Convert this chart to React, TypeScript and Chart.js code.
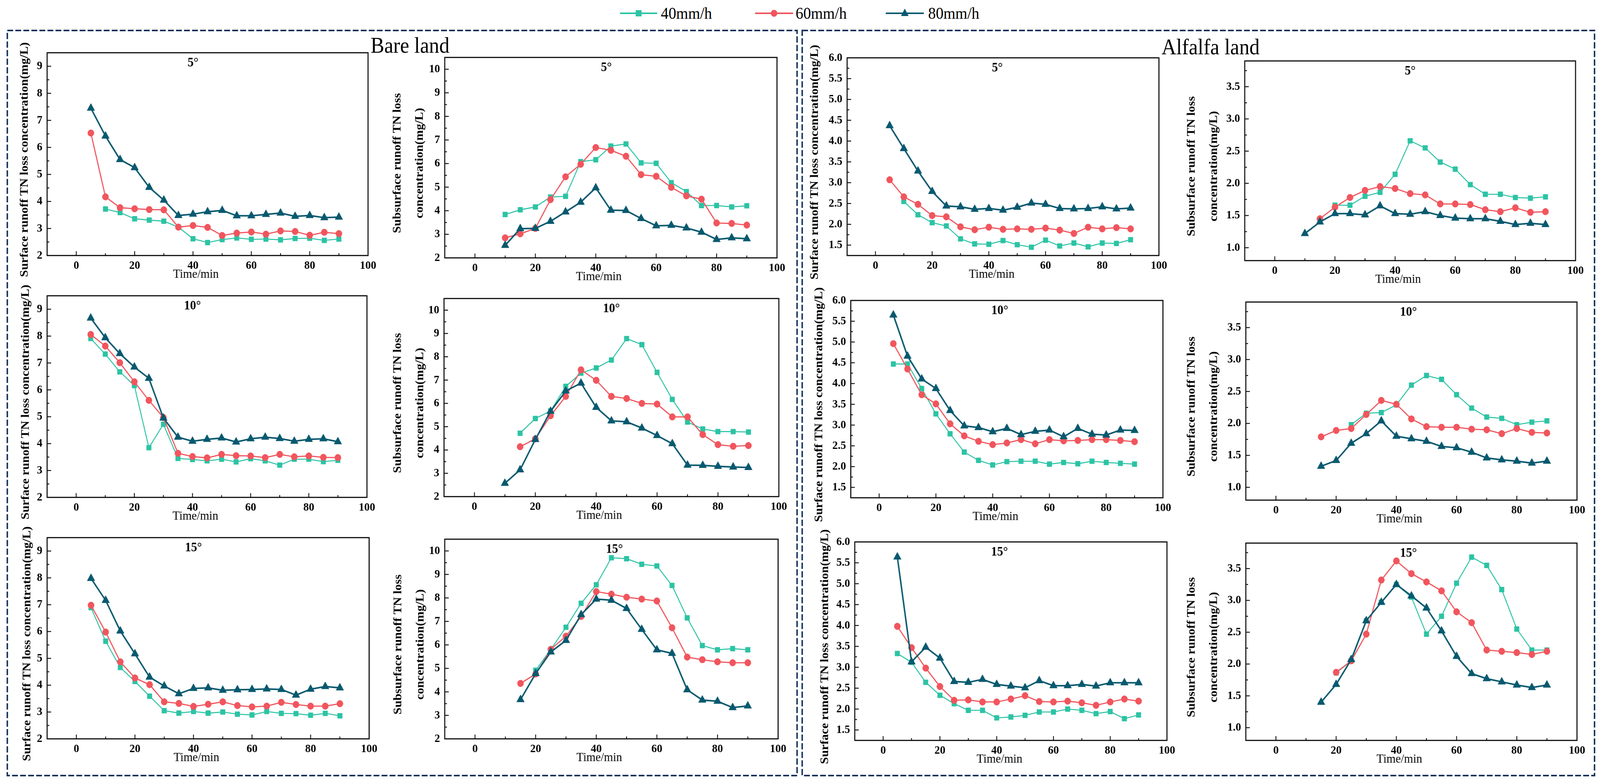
import React, { useEffect, useRef, useState } from 'react';
import { Chart, registerables } from 'chart.js';

Chart.register(...registerables);

const SERIF = '"Liberation Serif", "Times New Roman", Times, serif';
const COLOR_40 = '#2CC3A4';
const COLOR_60 = '#F1555D';
const COLOR_80 = '#08596F';
const NAVY = '#13305A';

const PAGE_W = 4382;
const PAGE_H = 2004;

const SERIES_LABELS = ['40mm/h', '60mm/h', '80mm/h'];
const TIME = [5, 10, 15, 20, 25, 30, 35, 40, 45, 50, 55, 60, 65, 70, 75, 80, 85, 90];
const X_LABEL_VALUES = [0, 20, 40, 60, 80, 100];
const ANGLES = ['5°', '10°', '15°'];
const SURF_TITLE = ['Surface runoff TN loss concentration(mg/L)'];
const SUB_TITLE = ['Subsurface runoff TN loss', 'concentration(mg/L)'];
const X_TITLE = 'Time/min';

// Bare land, surface runoff
const B_S5_40 = [null, 3.72, 3.59, 3.36, 3.31, 3.27, 3.05, 2.62, 2.48, 2.59, 2.65, 2.60, 2.61, 2.58, 2.63, 2.64, 2.56, 2.61];
const B_S5_60 = [6.53, 4.17, 3.77, 3.73, 3.70, 3.69, 3.05, 3.11, 3.04, 2.74, 2.83, 2.87, 2.79, 2.91, 2.89, 2.75, 2.86, 2.81];
const B_S5_80 = [7.45, 6.42, 5.55, 5.25, 4.52, 4.05, 3.48, 3.53, 3.62, 3.67, 3.47, 3.47, 3.52, 3.57, 3.45, 3.48, 3.40, 3.42];
const B_S10_40 = [7.91, 7.33, 6.67, 6.16, 3.85, 4.72, 3.45, 3.41, 3.36, 3.42, 3.32, 3.44, 3.36, 3.20, 3.42, 3.42, 3.33, 3.38];
const B_S10_60 = [8.06, 7.63, 7.01, 6.30, 5.61, 4.97, 3.64, 3.52, 3.47, 3.60, 3.55, 3.54, 3.48, 3.60, 3.51, 3.54, 3.49, 3.48];
const B_S10_80 = [8.67, 7.94, 7.35, 6.85, 6.43, 4.95, 4.24, 4.09, 4.16, 4.21, 4.06, 4.18, 4.24, 4.19, 4.09, 4.16, 4.18, 4.07];
const B_S15_40 = [6.89, 5.64, 4.66, 4.14, 3.59, 3.05, 2.96, 3.02, 2.96, 3.00, 2.92, 2.89, 3.02, 2.95, 2.94, 2.88, 2.95, 2.86];
const B_S15_60 = [6.98, 5.98, 4.87, 4.27, 4.02, 3.38, 3.32, 3.21, 3.29, 3.38, 3.24, 3.19, 3.22, 3.36, 3.28, 3.22, 3.22, 3.31];
const B_S15_80 = [7.98, 7.16, 6.02, 5.17, 4.30, 3.97, 3.68, 3.88, 3.90, 3.81, 3.83, 3.84, 3.86, 3.84, 3.63, 3.85, 3.95, 3.90];

// Bare land, subsurface runoff
const B_U5_40 = [null, 3.84, 4.04, 4.16, 4.58, 4.61, 6.08, 6.16, 6.74, 6.83, 6.03, 6.01, 5.19, 4.81, 4.22, 4.22, 4.16, 4.21];
const B_U5_60 = [null, 2.85, 3.02, 3.25, 4.47, 5.44, 5.97, 6.68, 6.56, 6.31, 5.53, 5.46, 4.99, 4.63, 4.49, 3.48, 3.46, 3.39];
const B_U5_80 = [null, 2.53, 3.24, 3.25, 3.55, 3.95, 4.36, 4.97, 4.02, 4.01, 3.67, 3.36, 3.38, 3.27, 3.09, 2.78, 2.85, 2.81];
const B_U10_40 = [null, null, 4.72, 5.35, 5.67, 6.73, 7.30, 7.52, 7.86, 8.78, 8.52, 7.33, 6.17, 5.20, 4.90, 4.79, 4.79, 4.77];
const B_U10_60 = [null, null, 4.14, 4.48, 5.47, 6.30, 7.44, 6.99, 6.30, 6.21, 6.00, 5.97, 5.42, 5.42, 4.66, 4.23, 4.16, 4.19];
const B_U10_80 = [null, 2.57, 3.15, 4.45, 5.66, 6.53, 6.87, 5.83, 5.25, 5.21, 4.94, 4.62, 4.27, 3.35, 3.34, 3.30, 3.27, 3.25];
const B_U15_40 = [null, null, null, 4.92, 5.81, 6.75, 7.77, 8.56, 9.71, 9.67, 9.43, 9.36, 8.53, 7.15, 5.97, 5.79, 5.84, 5.79];
const B_U15_60 = [null, null, 4.36, 4.76, 5.81, 6.37, 7.21, 8.27, 8.16, 8.03, 7.95, 7.87, 6.73, 5.48, 5.37, 5.28, 5.24, 5.24];
const B_U15_80 = [null, null, 3.67, 4.78, 5.70, 6.19, 7.29, 7.95, 7.90, 7.55, 6.66, 5.79, 5.64, 4.09, 3.65, 3.60, 3.33, 3.40];

// Alfalfa land, surface runoff
const A_S5_40 = [null, 2.55, 2.23, 2.04, 1.96, 1.65, 1.53, 1.52, 1.61, 1.51, 1.45, 1.62, 1.48, 1.55, 1.46, 1.55, 1.54, 1.63];
const A_S5_60 = [3.07, 2.66, 2.48, 2.21, 2.18, 1.94, 1.87, 1.93, 1.88, 1.89, 1.88, 1.91, 1.86, 1.78, 1.93, 1.89, 1.92, 1.89];
const A_S5_80 = [4.37, 3.82, 3.28, 2.79, 2.44, 2.42, 2.36, 2.38, 2.34, 2.41, 2.51, 2.48, 2.38, 2.37, 2.38, 2.42, 2.37, 2.39];
const A_S10_40 = [4.47, 4.47, 3.88, 3.27, 2.79, 2.35, 2.15, 2.04, 2.12, 2.13, 2.13, 2.06, 2.10, 2.07, 2.13, 2.10, 2.08, 2.06];
const A_S10_60 = [4.96, 4.35, 3.73, 3.51, 3.03, 2.74, 2.61, 2.53, 2.57, 2.65, 2.55, 2.65, 2.62, 2.63, 2.65, 2.65, 2.63, 2.60];
const A_S10_80 = [5.65, 4.66, 4.11, 3.88, 3.35, 2.98, 2.94, 2.84, 2.92, 2.77, 2.85, 2.88, 2.72, 2.92, 2.78, 2.76, 2.88, 2.87];
const A_S15_40 = [3.33, 3.12, 2.64, 2.33, 2.13, 1.97, 1.97, 1.79, 1.81, 1.85, 1.93, 1.93, 2.00, 1.97, 1.89, 1.94, 1.77, 1.86];
const A_S15_60 = [3.98, 3.47, 2.98, 2.54, 2.21, 2.22, 2.17, 2.17, 2.24, 2.32, 2.18, 2.17, 2.19, 2.15, 2.09, 2.17, 2.24, 2.19];
const A_S15_80 = [5.64, 3.13, 3.48, 3.22, 2.66, 2.64, 2.71, 2.59, 2.55, 2.51, 2.68, 2.56, 2.56, 2.59, 2.55, 2.63, 2.63, 2.63];

// Alfalfa land, subsurface runoff
const A_U5_40 = [null, null, null, 1.66, 1.66, 1.80, 1.86, 2.14, 2.66, 2.55, 2.33, 2.22, 1.98, 1.83, 1.83, 1.78, 1.77, 1.79];
const A_U5_60 = [null, null, 1.45, 1.63, 1.78, 1.89, 1.95, 1.92, 1.84, 1.82, 1.68, 1.68, 1.67, 1.59, 1.56, 1.62, 1.55, 1.56];
const A_U5_80 = [null, 1.22, 1.40, 1.53, 1.53, 1.51, 1.65, 1.53, 1.52, 1.56, 1.50, 1.46, 1.45, 1.45, 1.41, 1.36, 1.38, 1.36];
const A_U10_40 = [null, null, null, null, 1.98, 2.16, 2.17, 2.29, 2.60, 2.75, 2.69, 2.45, 2.24, 2.10, 2.08, 1.98, 2.02, 2.04];
const A_U10_60 = [null, null, 1.79, 1.89, 1.92, 2.14, 2.36, 2.30, 2.07, 1.95, 1.94, 1.94, 1.91, 1.90, 1.84, 1.92, 1.86, 1.85];
const A_U10_80 = [null, null, 1.33, 1.42, 1.69, 1.84, 2.04, 1.80, 1.76, 1.72, 1.64, 1.62, 1.55, 1.46, 1.43, 1.41, 1.38, 1.41];
const A_U15_40 = [null, null, null, 1.86, 2.05, 2.68, 2.97, 3.25, 3.05, 2.47, 2.75, 3.27, 3.68, 3.55, 3.17, 2.55, 2.22, 2.22];
const A_U15_60 = [null, null, null, 1.87, 2.05, 2.47, 3.32, 3.62, 3.42, 3.29, 3.15, 2.82, 2.65, 2.22, 2.20, 2.18, 2.15, 2.20];
const A_U15_80 = [null, null, 1.40, 1.68, 2.07, 2.68, 2.97, 3.25, 3.07, 2.88, 2.52, 2.12, 1.85, 1.77, 1.72, 1.67, 1.63, 1.67];

type Vals = (number | null)[];
interface PanelDef {
  box: number[];
  titleX: number;
  title: string[];
  yMin: number; yMax: number; yStep: number; yMajor: number; dec: number;
  angle: string; angleX: number;
  s40: Vals; s60: Vals; s80: Vals;
}

const BARE_SURF = { title: SURF_TITLE, yMin: 2, yMax: 9.5, yStep: 0.5, yMajor: 1, dec: 0 };
const BARE_SUB = { title: SUB_TITLE, yMin: 2, yMax: 10.5, yStep: 0.5, yMajor: 1, dec: 0 };
const ALF_SURF = { title: SURF_TITLE, yMin: 1.25, yMax: 6.0, yStep: 0.25, yMajor: 0.5, dec: 1 };
const ALF_SUB = { title: SUB_TITLE, yMin: 0.8, yMax: 3.9, yStep: 0.25, yMajor: 0.5, dec: 1 };

const PANELS: PanelDef[] = [
  { ...BARE_SURF, box: [129, 135, 1008, 654], titleX: 68, angle: ANGLES[0], angleX: 40, s40: B_S5_40, s60: B_S5_60, s80: B_S5_80 },
  { ...BARE_SUB, box: [1218, 147, 2128, 660], titleX: 1089, angle: ANGLES[0], angleX: 43.5, s40: B_U5_40, s60: B_U5_60, s80: B_U5_80 },
  { ...ALF_SURF, box: [2320, 148, 3174, 654], titleX: 2232, angle: ANGLES[0], angleX: 43, s40: A_S5_40, s60: A_S5_60, s80: A_S5_80 },
  { ...ALF_SUB, box: [3409, 156, 4315, 667], titleX: 3264, angle: ANGLES[0], angleX: 45, s40: A_U5_40, s60: A_U5_60, s80: A_U5_80 },
  { ...BARE_SURF, box: [129, 757, 1005, 1273], titleX: 71, angle: ANGLES[1], angleX: 40, s40: B_S10_40, s60: B_S10_60, s80: B_S10_80 },
  { ...BARE_SUB, box: [1216, 764, 2133, 1271], titleX: 1090, angle: ANGLES[1], angleX: 45, s40: B_U10_40, s60: B_U10_60, s80: B_U10_80 },
  { ...ALF_SURF, box: [2330, 769, 3185, 1274], titleX: 2244, angle: ANGLES[1], angleX: 42.5, s40: A_S10_40, s60: A_S10_60, s80: A_S10_80 },
  { ...ALF_SUB, box: [3412, 773, 4319, 1280], titleX: 3264, angle: ANGLES[1], angleX: 44, s40: A_U10_40, s60: A_U10_60, s80: A_U10_80 },
  { ...BARE_SURF, box: [129, 1376, 1011, 1891], titleX: 75, angle: ANGLES[2], angleX: 40, s40: B_S15_40, s60: B_S15_60, s80: B_S15_80 },
  { ...BARE_SUB, box: [1218, 1380, 2131, 1891], titleX: 1091, angle: ANGLES[2], angleX: 46, s40: B_U15_40, s60: B_U15_60, s80: B_U15_80 },
  { ...ALF_SURF, box: [2341, 1387, 3196, 1895], titleX: 2260, angle: ANGLES[2], angleX: 41, s40: A_S15_40, s60: A_S15_60, s80: A_S15_80 },
  { ...ALF_SUB, box: [3412, 1390, 4319, 1895], titleX: 3264, angle: ANGLES[2], angleX: 44, s40: A_U15_40, s60: A_U15_60, s80: A_U15_80 },
];

const PAD_TOP = 34;
const PAD_RIGHT = 34;
const X_AXIS_H = 82;
const TITLE_LEFT_GAP = 32;

const isMult = (v: number, m: number) => Math.abs(v / m - Math.round(v / m)) < 1e-6;

const decoPlugin = {
  id: 'deco',
  afterDraw(chart: any, _args: any, o: any) {
    const { ctx, chartArea: a, scales } = chart;
    const xs = scales.x;
    const ys = scales.y;
    ctx.save();
    ctx.strokeStyle = '#000';
    ctx.lineWidth = 2.2;
    xs.ticks.forEach((t: any) => {
      const p = xs.getPixelForValue(t.value);
      if (p <= a.left + 2 || p >= a.right - 2) return;
      const len = isMult(t.value, 20) ? 11 : 6;
      ctx.beginPath();
      ctx.moveTo(p, a.bottom);
      ctx.lineTo(p, a.bottom - len);
      ctx.stroke();
    });
    ys.ticks.forEach((t: any) => {
      const p = ys.getPixelForValue(t.value);
      if (p >= a.bottom - 2 || p <= a.top + 2) return;
      const len = isMult(t.value, o.yMajor) ? 11 : 6;
      ctx.beginPath();
      ctx.moveTo(a.left, p);
      ctx.lineTo(a.left + len, p);
      ctx.stroke();
    });
    ctx.lineWidth = 2.8;
    ctx.strokeRect(a.left, a.top, a.right - a.left, a.bottom - a.top);

    ctx.fillStyle = '#000';
    ctx.textAlign = 'center';
    ctx.textBaseline = 'middle';
    ctx.font = `bold 33px ${SERIF}`;
    ctx.fillText(o.angle, xs.getPixelForValue(o.angleX), a.top + 26);

    ctx.font = `32px ${SERIF}`;
    ctx.fillText(X_TITLE, xs.getPixelForValue(41), a.bottom + 49);

    ctx.font = `bold 32px ${SERIF}`;
    const cy = (a.top + a.bottom) / 2 + 14;
    o.title.forEach((line: string, i: number) => {
      ctx.save();
      ctx.translate(TITLE_LEFT_GAP + i * 61, cy);
      ctx.rotate(-Math.PI / 2);
      ctx.fillText(line, 0, 0);
      ctx.restore();
    });
    ctx.restore();
  },
};

function makeDataset(label: string, vals: Vals, color: string, style: string, radius: number, width: number, order: number) {
  return {
    label,
    data: TIME.map((t, i) => ({ x: t, y: vals[i] })).filter((p) => p.y !== null),
    borderColor: color,
    backgroundColor: color,
    pointBackgroundColor: color,
    pointBorderColor: color,
    pointStyle: style,
    pointRadius: radius,
    pointBorderWidth: 1,
    borderWidth: width,
    tension: 0,
    fill: false,
    order,
  };
}

function PanelChart({ p }: { p: PanelDef }) {
  const ref = useRef<HTMLCanvasElement>(null);
  const [l, t, r, b] = p.box;
  const canvasLeft = p.titleX - TITLE_LEFT_GAP;
  const canvasTop = t - PAD_TOP;
  const W = r - canvasLeft + PAD_RIGHT;
  const H = b - canvasTop + X_AXIS_H;
  const yW = l - canvasLeft;

  useEffect(() => {
    if (!ref.current) return;
    const tickFont = { family: SERIF, size: 30, weight: 'bold' as const };
    const chart = new Chart(ref.current, {
      type: 'line',
      data: {
        datasets: [
          makeDataset(SERIES_LABELS[0], p.s40, COLOR_40, 'rect', 9, 2.6, 2),
          makeDataset(SERIES_LABELS[1], p.s60, COLOR_60, 'circle', 8.5, 3, 1),
          makeDataset(SERIES_LABELS[2], p.s80, COLOR_80, 'triangle', 12, 4, 0),
        ] as any,
      },
      options: {
        responsive: false,
        animation: false,
        devicePixelRatio: 1,
        events: [],
        layout: { padding: { top: PAD_TOP, right: PAD_RIGHT, left: 0, bottom: 0 } },
        plugins: {
          legend: { display: false },
          tooltip: { enabled: false },
          deco: { angle: p.angle, angleX: p.angleX, title: p.title, yMajor: p.yMajor },
        } as any,
        scales: {
          x: {
            type: 'linear',
            min: -10,
            max: 100,
            afterFit: (s: any) => { s.height = X_AXIS_H; s.paddingLeft = 0; s.paddingRight = 0; },
            grid: { display: false, drawTicks: false },
            border: { display: false },
            ticks: {
              stepSize: 10,
              autoSkip: false,
              maxRotation: 0,
              includeBounds: false,
              padding: 8,
              font: tickFont,
              color: '#000',
              callback: (v: any) => (X_LABEL_VALUES.includes(Number(v)) ? String(v) : ''),
            },
          },
          y: {
            type: 'linear',
            min: p.yMin,
            max: p.yMax,
            afterFit: (s: any) => { s.width = yW; s.paddingTop = 0; s.paddingBottom = 0; },
            grid: { display: false, drawTicks: false },
            border: { display: false },
            ticks: {
              stepSize: p.yStep,
              autoSkip: false,
              includeBounds: false,
              padding: 13,
              font: tickFont,
              color: '#000',
              callback: (v: any) => (isMult(Number(v), p.yMajor) ? Number(v).toFixed(p.dec) : ''),
            },
          },
        } as any,
      },
      plugins: [decoPlugin as any],
    });
    return () => chart.destroy();
  }, []);

  return (
    <canvas
      ref={ref}
      width={W}
      height={H}
      style={{ position: 'absolute', left: canvasLeft, top: canvasTop, width: W, height: H }}
    />
  );
}

const LEGEND_ITEMS = [
  { label: SERIES_LABELS[0], color: COLOR_40, shape: 'rect', x1: 1698, x2: 1800, tx: 1810 },
  { label: SERIES_LABELS[1], color: COLOR_60, shape: 'circle', x1: 2068, x2: 2172, tx: 2179 },
  { label: SERIES_LABELS[2], color: COLOR_80, shape: 'triangle', x1: 2426, x2: 2530, tx: 2542 },
];

function Marker({ shape, cx, cy, color }: { shape: string; cx: number; cy: number; color: string }) {
  if (shape === 'rect') return <rect x={cx - 8} y={cy - 8} width={16} height={16} fill={color} />;
  if (shape === 'circle') return <circle cx={cx} cy={cy} r={9} fill={color} />;
  return <polygon points={`${cx},${cy - 12} ${cx + 10.5},${cy + 7} ${cx - 10.5},${cy + 7}`} fill={color} />;
}

function viewportScale() {
  if (typeof window === 'undefined') return { sx: 1, sy: 1 };
  const sx = window.innerWidth / PAGE_W;
  const sy = window.innerHeight / PAGE_H;
  return {
    sx: sx > 0 && isFinite(sx) ? sx : 1,
    sy: sy > 0 && isFinite(sy) ? sy : 1,
  };
}

export default function App() {
  const [scale, setScale] = useState(viewportScale());
  useEffect(() => {
    const onResize = () => setScale(viewportScale());
    window.addEventListener('resize', onResize);
    return () => window.removeEventListener('resize', onResize);
  }, []);
  return (
    <div
      style={{
        position: 'fixed', left: 0, top: 0, width: PAGE_W, height: PAGE_H, background: '#fff', overflow: 'hidden',
        transform: `scale(${scale.sx}, ${scale.sy})`, transformOrigin: '0 0',
      }}
    >
      <svg width={PAGE_W} height={PAGE_H} style={{ position: 'absolute', left: 0, top: 0 }}>
        <rect x={20} y={78} width={2163} height={1907} fill="none" stroke={NAVY} strokeWidth={4} strokeDasharray="16 6" />
        <rect x={2197} y={78} width={2170} height={1907} fill="none" stroke={NAVY} strokeWidth={4} strokeDasharray="16 6" />
        <text x={1015} y={135} fontFamily={SERIF} fontSize={56} fill="#000">Bare land</text>
        <text x={3181} y={139} fontFamily={SERIF} fontSize={56} fill="#000">Alfalfa land</text>
        {LEGEND_ITEMS.map((it) => (
          <g key={it.label}>
            <line x1={it.x1} x2={it.x2} y1={34} y2={34} stroke={it.color} strokeWidth={4} />
            <Marker shape={it.shape} cx={(it.x1 + it.x2) / 2} cy={34} color={it.color} />
            <text x={it.tx} y={48} fontFamily={SERIF} fontSize={42} fill="#000">{it.label}</text>
          </g>
        ))}
      </svg>
      {PANELS.map((p, i) => (
        <PanelChart key={i} p={p} />
      ))}
    </div>
  );
}
